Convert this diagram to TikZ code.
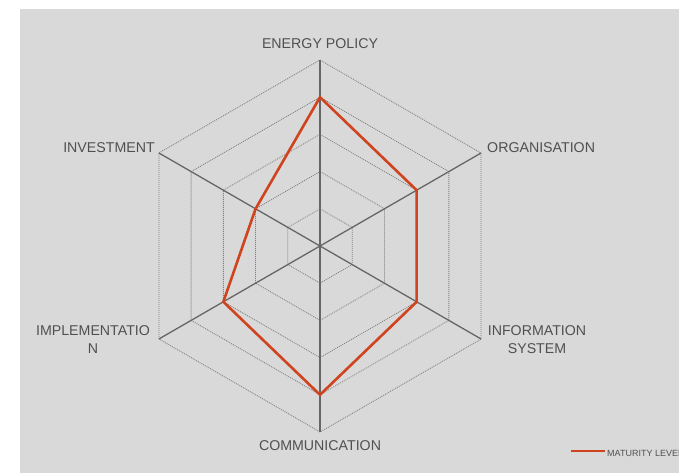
\documentclass[tikz,border=0pt]{standalone}
\usepackage{fontspec}
\setmainfont{Liberation Sans}
\usetikzlibrary{calc}
\definecolor{bg}{HTML}{D9D9D9}
\definecolor{spoke}{HTML}{666666}
\definecolor{ring}{HTML}{808080}
\definecolor{txt}{HTML}{505050}
\definecolor{mat}{HTML}{D0431F}
\tikzset{
  ringline/.style={draw=ring, line width=0.8pt, dash pattern=on 1pt off 1pt},
  spokeline/.style={draw=spoke, line width=1.3pt},
  matline/.style={draw=mat, line width=2.6pt, line join=miter},
  lbl/.style={text=txt, font=\fontsize{14.2}{18}\selectfont, inner sep=0pt, align=center},
}
\begin{document}
\begin{tikzpicture}[x=1pt,y=1pt]
\useasboundingbox (0,0) rectangle (679,473);
\fill[bg] (20,0) rectangle (679,464);
\coordinate (O) at (320,227);
% rings
\foreach \k in {1,...,5}{
  \draw[ringline] ($(O)+(90:37.2*\k)$) -- ($(O)+(30:37.2*\k)$) -- ($(O)+(-30:37.2*\k)$) -- ($(O)+(-90:37.2*\k)$) -- ($(O)+(210:37.2*\k)$) -- ($(O)+(150:37.2*\k)$) -- cycle;
}
% outer vertices
\coordinate (vE) at ($(O)+(90:186)$);
\coordinate (vO) at ($(O)+(30:186)$);
\coordinate (vI) at ($(O)+(-30:186)$);
\coordinate (vC) at ($(O)+(-90:186)$);
\coordinate (vM) at ($(O)+(210:186)$);
\coordinate (vN) at ($(O)+(150:186)$);
\foreach \v in {vE,vO,vI,vC,vM,vN}{ \draw[spokeline] (O) -- (\v); }
% maturity polygon
\coordinate (mE) at ($(O)+(90:148.8)$);
\coordinate (mO) at ($(O)+(30:111.6)$);
\coordinate (mI) at ($(O)+(-30:111.6)$);
\coordinate (mC) at ($(O)+(-90:148.8)$);
\coordinate (mM) at ($(O)+(210:111.6)$);
\coordinate (mN) at ($(O)+(150:74.4)$);
\draw[matline] (mE) -- (mO) -- (mI) -- (mC) -- (mM) -- (mN) -- cycle;
% labels
\node[lbl] (lE) at (320,429) {ENERGY POLICY};
\node[lbl, anchor=west] (lO) at (487,325) {ORGANISATION};
\node[lbl, anchor=east] (lN) at (155,325) {INVESTMENT};
\node[lbl] (lI) at (537,133) {INFORMATION\\SYSTEM};
\node[lbl] (lM) at (93,133) {IMPLEMENTATIO\\N};
\node[lbl] (lC) at (320,27) {COMMUNICATION};
% legend
\coordinate (g1) at (571,22);
\coordinate (g2) at (605,22);
\draw[draw=mat, line width=2.4pt] (g1) -- (g2);
\begin{scope}
\clip (600,0) rectangle (679,464);
\node[text=txt, font=\fontsize{9}{10}\selectfont, inner sep=0pt, anchor=west] (lg) at (607,20) {MATURITY LEVEL};
\end{scope}
\end{tikzpicture}
\end{document}
